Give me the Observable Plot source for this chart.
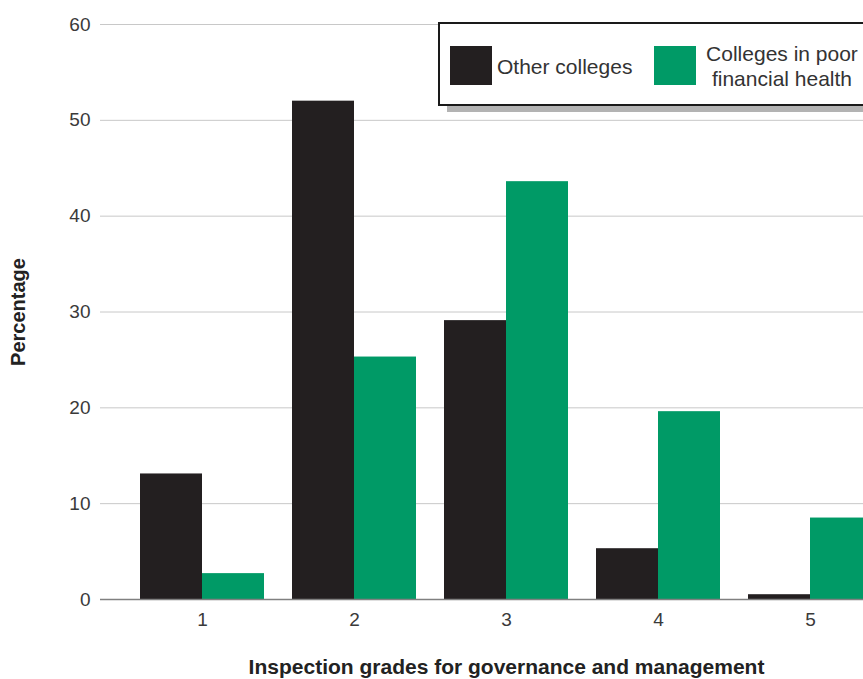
<!DOCTYPE html>
<html>
<head>
<meta charset="utf-8">
<script src="https://cdn.jsdelivr.net/npm/d3@7"></script>
<script src="https://cdn.jsdelivr.net/npm/@observablehq/plot@0.6"></script>
<style>
  html, body { margin: 0; padding: 0; background: #fff; overflow: hidden; }
  #wrap { position: relative; width: 863px; height: 679px; overflow: hidden; font-family: "Liberation Sans", Arial, sans-serif; }
  #wrap svg { display: block; max-width: none; overflow: hidden; }
  .legend {
    position: absolute; left: 438px; top: 22px; width: 460px; height: 80px;
    border: 2px solid #1a1a1a; background: #fff; box-shadow: 9px 6px 0 #b3b3b3;
    box-sizing: content-box;
  }
  .legend .sw { position: absolute; width: 42px; height: 39px; top: 22px; }
  .legend .lab { position: absolute; font-size: 21px; color: #333; line-height: 25px; white-space: nowrap; }
</style>
</head>
<body>
<div id="wrap"></div>
<script>
// Inspection grades (1 = outstanding ... 5 = inadequate)
const grades = [1, 2, 3, 4, 5];
const seriesNames = ["Other colleges", "Colleges in poor financial health"];
const otherColleges = [13.1, 52.0, 29.1, 5.3, 0.5];
const poorHealthColleges = [2.7, 25.3, 43.6, 19.6, 8.5];
const yTicks = [0, 10, 20, 30, 40, 50, 60];
const colors = ["#231f20", "#009a66"];

const other = grades.map((g, i) => ({grade: g, value: otherColleges[i]}));
const poor = grades.map((g, i) => ({grade: g, value: poorHealthColleges[i]}));

const chart = Plot.plot({
  width: 863,
  height: 679,
  marginLeft: 100,
  marginRight: -49,
  marginTop: 24,
  marginBottom: 80,
  style: {fontFamily: "Liberation Sans, Arial, sans-serif", background: "#fff", overflow: "hidden"},
  x: {domain: grades, paddingInner: 0.184, paddingOuter: 0.263, axis: null},
  y: {domain: [0, 60], axis: null},
  marks: [
    Plot.ruleY(yTicks.filter(d => d > 0), {stroke: "#c8c8c8", strokeWidth: 1}),
    // grouped bars: left half of each band, then right half
    Plot.barY(other, {x: "grade", y: "value", fill: colors[0], insetRight: 62}),
    Plot.barY(poor, {x: "grade", y: "value", fill: colors[1], insetLeft: 62}),
    Plot.ruleY([0], {stroke: "#808080", strokeWidth: 1.5}),
    Plot.axisY({ticks: yTicks, tickSize: 0, tickPadding: 10, fontSize: 19, fill: "#3a3a3a", label: null}),
    Plot.axisX({tickSize: 0, tickPadding: 13, fontSize: 19, fill: "#3a3a3a", label: null}),
    Plot.text(["Percentage"], {frameAnchor: "left", textAnchor: "middle", dx: -82, rotate: -90, fontSize: 20, fontWeight: "bold", fill: "#222"}),
    Plot.text(["Inspection grades for governance and management"], {frameAnchor: "bottom", textAnchor: "middle", dy: 74, fontSize: 21, fontWeight: "bold", fill: "#222"})
  ]
});

const wrap = document.getElementById("wrap");
wrap.appendChild(chart);

const legend = document.createElement("div");
legend.className = "legend";
legend.innerHTML = `
  <div class="sw" style="left:10px;background:${colors[0]}"></div>
  <div class="lab" style="left:57px;top:30px">${seriesNames[0]}</div>
  <div class="sw" style="left:214px;background:${colors[1]}"></div>
  <div class="lab" style="left:262px;top:17px;width:160px;text-align:center">Colleges in poor<br>financial health</div>
`;
wrap.appendChild(legend);
</script>
</body>
</html>
